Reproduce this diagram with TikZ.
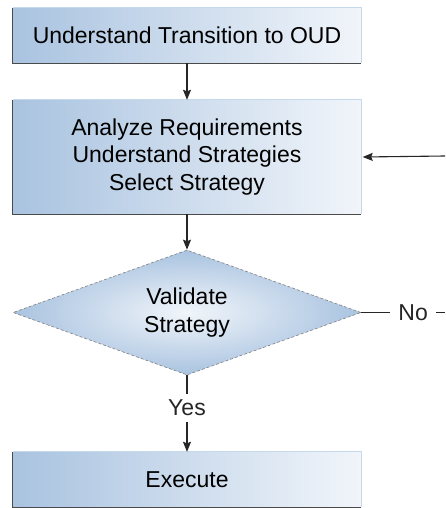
\documentclass[tikz,border=0pt]{standalone}
\usepackage{fontspec}
\setmainfont{Liberation Sans}
\usetikzlibrary{shapes.geometric,arrows.meta}
\definecolor{boxdark}{HTML}{A9C3E0}
\definecolor{boxlight}{HTML}{F1F5FA}
\definecolor{edgedark}{HTML}{4A4A4A}
\definecolor{edgelight}{HTML}{C6D8EC}
\tikzset{
  box/.style={rectangle, minimum width=348pt, inner sep=0pt, left color=boxdark, right color=boxlight, draw=none, font=\fontsize{23}{27.5}\selectfont, align=center},
  dec/.style={diamond, minimum width=348pt, minimum height=125pt, aspect=2.78, inner sep=0pt, inner color=boxlight, outer color=boxdark, draw=edgedark!70, densely dashed, line width=0.6pt, font=\fontsize{23}{27.5}\selectfont, align=center},
  lbl/.style={font=\fontsize{23}{27}\selectfont, fill=white},
  conn/.style={line width=1.1pt, black!85},
  arr/.style={conn, -{Stealth[length=10pt,width=8pt,inset=1.5pt]}}
}
\newcommand{\boxedges}[1]{%
  \draw[edgelight, line width=1pt] (#1.south east) -- (#1.north east) -- (#1.north west);
  \draw[edgedark, line width=1.2pt] (#1.north west) -- (#1.south west) -- (#1.south east);
}
\begin{document}
\begin{tikzpicture}[x=1pt,y=-1pt]
\useasboundingbox (0,0) rectangle (445,508);
\node[box, minimum height=55pt] (b1) at (187,35.5) {Understand Transition to OUD};
\node[box, minimum height=114pt] (b2) at (187,157) {Analyze Requirements\\Understand Strategies\\Select Strategy};
\node[dec] (d) at (187,312.5) {Validate\\Strategy};
\node[box, minimum height=55pt] (b3) at (187,479.5) {Execute};
\boxedges{b1}
\boxedges{b2}
\boxedges{b3}
\coordinate (noend) at (445,312.5);
\coordinate (loopin) at (445,156);
\draw[arr] (b1.south) -- (b2.north);
\draw[arr] (b2.south) -- (d.north);
\draw[arr] (d.south) -- node[lbl, pos=0.43, inner xsep=1pt, inner ysep=6pt] (yes) {Yes} (b3.north);
\draw[conn] (d.east) -- node[lbl, pos=0.62, inner xsep=8pt, inner ysep=2pt] (no) {No} (noend);
\draw[arr] (loopin) -- ([xshift=1.5pt]b2.east);
\end{tikzpicture}
\end{document}
